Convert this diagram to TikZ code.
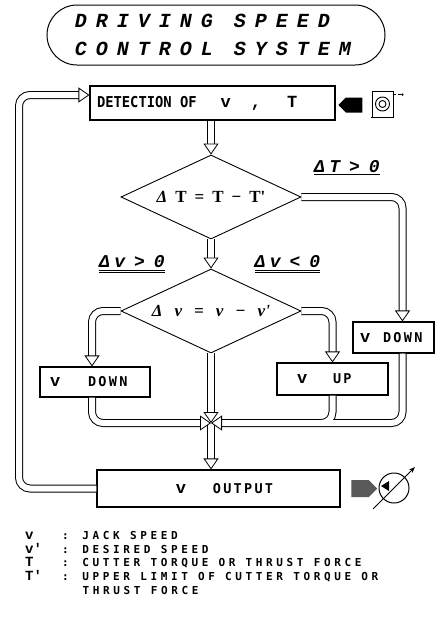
\documentclass[tikz,border=0pt]{standalone}
\usepackage{fontspec}
\usetikzlibrary{arrows.meta,shapes.geometric,shapes.arrows,positioning}

\newfontfamily\titlef[LetterSpace=45]{Liberation Mono}
\newfontfamily\condf[LetterSpace=24]{Liberation Mono}
\newfontfamily\symf{Liberation Mono}
\newfontfamily\serf{Liberation Serif}
\newfontfamily\detf[FakeStretch=0.92]{DejaVu Sans Mono}
\newfontfamily\boxf[LetterSpace=17]{DejaVu Sans Mono}
\newfontfamily\legf[LetterSpace=33]{DejaVu Sans Mono}

\newcommand\symv{\symf\bfseries\fontsize{17}{17}\selectfont}
\newcommand\boxtxt{\boxf\bfseries\fontsize{13.5}{13.5}\selectfont}
\newcommand\dettxt{\detf\bfseries\fontsize{15}{15}\selectfont\spaceskip 8.3pt\relax}
\newcommand\titletxt{\titlef\bfseries\itshape\fontsize{20}{28}\selectfont\spaceskip 21pt\relax}
\newcommand\condtxt{\condf\bfseries\itshape\fontsize{18}{18}\selectfont\spaceskip 9pt\relax}
\newcommand\legtxt{\legf\bfseries\fontsize{11}{14}\selectfont\spaceskip 10.2pt\relax}
\newcommand\dTtxt{\serf\bfseries\fontsize{17}{17}\selectfont\spaceskip 8pt\relax}
\newcommand\dvtxt{\serf\bfseries\itshape\fontsize{17}{17}\selectfont\spaceskip 12pt\relax}

\tikzset{
  pipe/.style={rounded corners=11pt,
    preaction={draw=black, line width=8pt, shorten >=8pt},
    draw=white, line width=6pt, shorten >=8pt,
    postaction={draw=white, line width=0.6pt, shorten <=1.5pt, shorten >=0pt,
      -{Triangle[length=11pt, width=15pt, fill=white, color=black, line width=0.8pt]}}},
  box/.style={draw, line width=1.1pt, inner ysep=0pt, align=left},
  decision/.style={draw, diamond, shape aspect=2.2, line width=0.9pt, inner sep=0pt, minimum width=180pt, minimum height=84pt},
  cond/.style={font=\condtxt, inner xsep=0pt, inner ysep=3pt},
  legsym/.style={anchor=base west, inner sep=0pt, font=\symf\bfseries\fontsize{14}{14}\selectfont},
  legtext/.style={anchor=base west, inner sep=0pt, align=left, font=\legtxt},
}

\begin{document}
\begin{tikzpicture}[x=1pt,y=-1pt]
\useasboundingbox (0,0) rectangle (435,632);

% title
\node[draw, line width=1pt, rounded corners=30pt, minimum width=338pt, minimum height=60pt, align=left,
      font=\titletxt] (title) at (216,35) {\hspace{-6pt}DRIVING SPEED\\\hspace{-6pt}CONTROL SYSTEM};

% boxes and decisions
\node[box, text width=231pt, inner xsep=7pt, minimum height=34pt] (detect) at (212.5,103)
     {\dettxt DETECTION OF\hspace{24pt}\symv v\hspace{20pt},\hspace{26pt}T};
\node[decision, font=\dTtxt] (d1) at (211,197) {{\itshape Δ} T = T − T'\hspace{18pt}};
\node[decision, font=\dvtxt] (d2) at (211,311) {Δ v = v − v'};

\node[box, text width=90pt, inner xsep=10pt, minimum height=30pt] (vdownL) at (95,382) {\symv v\hspace{27.8pt}\boxtxt DOWN};
\node[box, text width=71pt, inner xsep=20pt, minimum height=32pt] (vup) at (332.5,379) {\symv v\hspace{25.8pt}\boxtxt UP};
\node[box, text width=67pt, inner xsep=7pt, minimum height=31pt] (vdownR) at (393.5,337.5) {\symv v\hspace{12.8pt}\boxtxt DOWN};
\node[box, minimum width=243pt, minimum height=37pt] (outp) at (218.5,488.5) {\hspace{12pt}\symv v\hspace{26.8pt}\boxtxt OUTPUT};

% conditions
\node[cond] (gtT) at (347,166.5) {ΔT > 0};
\node[cond] (gtv) at (132,262) {Δv > 0};
\node[cond] (ltv) at (287.5,262) {Δv < 0};
\draw[double, double distance=1.6pt, line width=0.6pt] (gtT.south west) -- (gtT.south east);
\draw[double, double distance=1.6pt, line width=0.6pt] (gtv.south west) -- (gtv.south east);
\draw[double, double distance=1.6pt, line width=0.6pt] (ltv.south west) -- (ltv.south east);

% flow
\coordinate (merge) at (211,423);
\coordinate (fb) at (19,300);
\draw[pipe] (detect.south -| d1.north) -- (d1.north);
\draw[pipe] (d1.south) -- (d2.north);
\draw[pipe] (d1.east) -| ([xshift=9pt]vdownR.north);
\draw[pipe] (d2.west) -| ([xshift=-3pt]vdownL.north);
\draw[pipe] (d2.east) -| (vup.north);
\draw[pipe] (merge) -- (merge |- outp.north);
\draw[pipe] (d2.south) -- (merge);
\draw[pipe] ([xshift=-3pt]vdownL.south) |- (merge);
\draw[pipe] ([xshift=9pt]vdownR.south) |- ([xshift=9pt]merge) (vup.south) |- (merge);
\draw[pipe] (outp.west) -| (fb) |- ([yshift=8pt]detect.west);

% sensor
\node[single arrow, fill=black, shape border rotate=180, single arrow head extend=0pt,
      minimum height=24pt, minimum width=15pt, inner sep=0pt] (sarrow) at (354,105) {};
\node[draw, line width=0.9pt, minimum width=21pt, minimum height=26pt, inner sep=0pt] (sensor) at (382.5,104) {};
\draw[line width=0.9pt] (sensor.center) circle (7pt) circle (3.5pt);
\draw[line width=1.5pt] ([xshift=-1pt]sensor.south west) -- ([xshift=1pt]sensor.south east);
\draw[densely dashed, line width=0.6pt] ([yshift=-4pt]sensor.north east) -- ++(9,0) node[circle, fill, inner sep=0.9pt] (stip) {};

% meter
\node[single arrow, fill=black!65, single arrow head extend=0pt,
      minimum height=26pt, minimum width=17pt, inner sep=0pt] (garrow) at (360,488.5) {};
\node[circle, draw, line width=1pt, minimum size=30pt, inner sep=0pt] (meter) at (394,488) {};
\draw[line width=0.9pt, -{Stealth[length=6pt]}] ([shift={(-10,10)}]meter.south west) -- ([shift={(10,-10)}]meter.north east);
\fill (381,486) -- (389,481) -- (389,491) -- cycle;

% legend
\node[legsym] (sv) at (25,539) {v};
\node[legtext] (tv) at (62,539) {: JACK SPEED};
\node[legsym] (svd) at (25,553) {v'};
\node[legtext] (tvd) at (62,553) {: DESIRED SPEED};
\node[legsym] (sT) at (25,566) {T};
\node[legtext] (tT) at (62,566) {: CUTTER TORQUE OR THRUST FORCE};
\node[legsym] (sTd) at (25,580) {T'};
\node[legtext] (tTd) at (62,594) {: UPPER LIMIT OF CUTTER TORQUE OR\\\hspace*{20.5pt}THRUST FORCE};

\end{tikzpicture}
\end{document}
